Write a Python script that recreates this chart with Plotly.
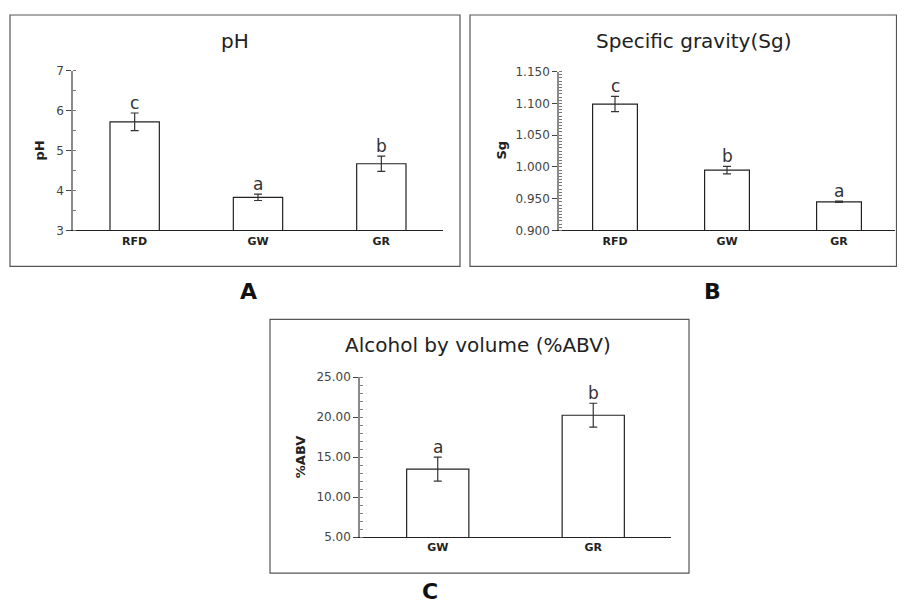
import plotly.graph_objects as go

# figure sized to fit inside the page's 8px body margin horizontally
OFFX = 8
W, H = 905 - 2 * OFFX, 605
# empirical vertical placement of the rendered page (calibrated from earlier renders)
VA, VB = 0.978, 14.3

# ---- data ----
ph_cats = ["RFD", "GW", "GR"]
ph_vals = [5.72, 3.83, 4.67]
ph_err = [0.22, 0.08, 0.19]
ph_letters = ["c", "a", "b"]

sg_cats = ["RFD", "GW", "GR"]
sg_vals = [1.099, 0.995, 0.945]
sg_err = [0.012, 0.006, 0.001]
sg_letters = ["c", "b", "a"]

abv_cats = ["GW", "GR"]
abv_vals = [13.5, 20.25]
abv_err = [1.5, 1.5]
abv_letters = ["a", "b"]

FONT = "DejaVu Sans"

def px(x):
    return min(max((x - OFFX) / W, 0.0), 1.0)

def py(y):
    fy = (y - VB) / VA
    return min(max(1 - fy / H, 0.0), 1.0)

fig = go.Figure()

panels = [
    dict(cats=ph_cats, vals=ph_vals, err=ph_err, letters=ph_letters,
         xd=[73, 443], yd=[70, 230], yr=[3, 7], dt=1, minor=0.5, fmt="d",
         box=[10, 14, 460, 266], title="pH", tpos=(235, 40), ytitle="pH", ytpos=(40, 150),
         lab="A", lpos=(248, 291), xa="x", ya="y"),
    dict(cats=sg_cats, vals=sg_vals, err=sg_err, letters=sg_letters,
         xd=[559, 895], yd=[71, 230], yr=[0.9, 1.15], dt=0.05, minor=0.005, fmt=".3f",
         box=[470, 14, 896.5, 266], title="Specific gravity(Sg)", tpos=(693, 40), ytitle="Sg", ytpos=(502, 150),
         lab="B", lpos=(712, 291), xa="x2", ya="y2"),
    dict(cats=abv_cats, vals=abv_vals, err=abv_err, letters=abv_letters,
         xd=[360, 671], yd=[377, 537], yr=[5, 25], dt=5, minor=1, fmt=".2f",
         box=[270, 319, 689, 573], title="Alcohol by volume (%ABV)", tpos=(478, 345), ytitle="%ABV", ytpos=(300, 457),
         lab="C", lpos=(430, 591), xa="x3", ya="y3"),
]

annotations = []
shapes = []
for i, p in enumerate(panels):
    fig.add_trace(go.Bar(
        x=p["cats"], y=p["vals"], xaxis=p["xa"], yaxis=p["ya"],
        marker=dict(color="white", line=dict(color="#222222", width=1.2)),
        error_y=dict(type="data", array=p["err"], color="#333333", thickness=1.2, width=4),
        showlegend=False, width=0.4,
    ))
    n = "" if i == 0 else str(i + 1)
    fig.layout["xaxis" + n] = dict(
        domain=[px(p["xd"][0]), px(p["xd"][1])], anchor=p["ya"],
        showline=True, linecolor="#222222", linewidth=1.2, ticks="",
        tickfont=dict(family=FONT, size=11, color="#222222", weight="bold"),
        fixedrange=True, showgrid=False, zeroline=False,
    )
    fig.layout["yaxis" + n] = dict(
        domain=[py(p["yd"][1]), py(p["yd"][0])], anchor=p["xa"],
        range=p["yr"], dtick=p["dt"], tick0=p["yr"][0], tickformat=p["fmt"],
        showline=True, linecolor="#8a8a8a", linewidth=1.5,
        ticks="outside", ticklen=5, tickcolor="#444444", tickwidth=1,
        minor=dict(dtick=p["minor"], ticks="inside", ticklen=3, tickcolor="#777777", tickwidth=1),
        tickfont=dict(family=FONT, size=12, color="#444444"),
        showgrid=False, zeroline=False, fixedrange=True,
    )
    b = p["box"]
    shapes.append(dict(type="rect", xref="paper", yref="paper",
                       x0=px(b[0]), x1=px(b[2]), y0=py(b[3]), y1=py(b[1]),
                       line=dict(color="#555555", width=1.2), fillcolor="rgba(0,0,0,0)", layer="below"))
    annotations.append(dict(xref="paper", yref="paper", x=px(p["tpos"][0]), y=py(p["tpos"][1]),
                            text=p["title"], showarrow=False, xanchor="center", yanchor="middle",
                            font=dict(family=FONT, size=20, color="#222222")))
    annotations.append(dict(xref="paper", yref="paper", x=px(p["ytpos"][0]), y=py(p["ytpos"][1]),
                            text="<b>%s</b>" % p["ytitle"], showarrow=False, textangle=-90,
                            xanchor="center", yanchor="middle",
                            font=dict(family=FONT, size=13, color="#222222")))
    annotations.append(dict(xref="paper", yref="paper", x=px(p["lpos"][0]), y=py(p["lpos"][1]),
                            text="<b>%s</b>" % p["lab"], showarrow=False, xanchor="center", yanchor="middle",
                            font=dict(family=FONT, size=22, color="#111111")))
    for c, v, e, l in zip(p["cats"], p["vals"], p["err"], p["letters"]):
        annotations.append(dict(xref=p["xa"], yref=p["ya"], x=c, y=v + e,
                                text=l, showarrow=False, xanchor="center", yanchor="bottom",
                                yshift=-2, font=dict(family=FONT, size=17, color="#333333")))

fig.update_layout(
    width=W, height=H, margin=dict(l=0, r=0, t=0, b=0),
    paper_bgcolor="white", plot_bgcolor="white",
    annotations=annotations, shapes=shapes, bargap=0.6,
)

fig.write_html("out.html")
